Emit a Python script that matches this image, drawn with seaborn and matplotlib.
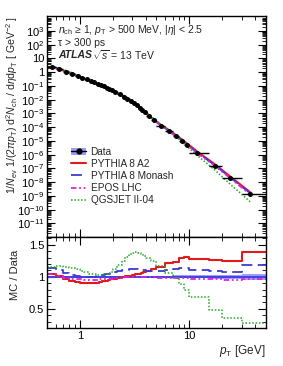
import numpy as np
import pandas as pd
import matplotlib
matplotlib.use("Agg")
import matplotlib.pyplot as plt
import seaborn as sns
from matplotlib.ticker import FixedLocator, FuncFormatter, NullFormatter, MultipleLocator
from matplotlib.lines import Line2D
from matplotlib.patches import Patch

# ---------------- data ----------------
bin_edges = [0.5, 0.6, 0.7, 0.8, 0.9, 1.0, 1.1, 1.2, 1.3, 1.4, 1.5, 1.6, 1.7, 1.8, 1.9, 2.0,
             2.2, 2.4, 2.6, 2.8, 3.0, 3.2, 3.4, 3.6, 3.8, 4.0, 4.5, 5.0, 6.0, 7.0, 8.0, 9.0,
             10.0, 15.0, 20.0, 30.0, 50.0]
pt_mean = [0.55, 0.65, 0.75, 0.85, 0.95, 1.05, 1.15, 1.25, 1.35, 1.45, 1.55, 1.65, 1.75, 1.85, 1.95,
           2.1, 2.3, 2.5, 2.7, 2.9, 3.1, 3.3, 3.5, 3.7, 3.9, 4.25, 4.75, 5.5, 6.5, 7.5, 8.5, 9.5,
           11.7, 17.0, 23.5, 36.0]
data_vals = [2.34, 1.62, 1.12, 0.794, 0.562, 0.407, 0.302, 0.229, 0.178, 0.141, 0.112, 0.0912,
             0.0741, 0.0617, 0.0513, 0.0372, 0.0251, 0.0170, 0.0115, 0.00794, 0.00550, 0.00380,
             0.00240, 0.00166, 0.00117, 6.6e-4, 3.16e-4, 1.26e-4, 5.0e-5, 2.19e-5, 1.0e-5, 5.0e-6,
             1.35e-6, 1.62e-7, 2.09e-8, 1.29e-9]
data_relerr = [0.012, 0.012, 0.012, 0.012, 0.012, 0.012, 0.012, 0.012, 0.012, 0.012, 0.012, 0.012,
               0.013, 0.013, 0.013, 0.013, 0.014, 0.014, 0.014, 0.015, 0.015, 0.015, 0.016, 0.016,
               0.016, 0.017, 0.018, 0.019, 0.020, 0.021, 0.022, 0.023, 0.025, 0.028, 0.032, 0.050]

ratio_pythia_a2 = [1.05, 1.01, 0.97, 0.94, 0.92, 0.91, 0.90, 0.90, 0.91, 0.91, 0.92, 0.93, 0.94,
                   0.95, 0.96, 0.97, 0.98, 1.00, 1.01, 1.02, 1.03, 1.04, 1.05, 1.06, 1.07, 1.09,
                   1.12, 1.16, 1.21, 1.23, 1.30, 1.31, 1.28, 1.26, 1.25, 1.39]
ratio_pythia_monash = [1.13, 1.10, 1.06, 1.03, 1.01, 1.00, 1.00, 1.00, 1.00, 1.01, 1.02, 1.03,
                       1.04, 1.05, 1.06, 1.08, 1.09, 1.10, 1.11, 1.12, 1.12, 1.12, 1.11, 1.11,
                       1.10, 1.09, 1.09, 1.09, 1.10, 1.12, 1.13, 1.14, 1.10, 1.09, 1.08, 1.19]
ratio_epos = [1.04, 1.01, 0.98, 0.97, 0.96, 0.96, 0.95, 0.95, 0.95, 0.95, 0.96, 0.96, 0.97, 0.97,
              0.97, 0.98, 0.98, 0.99, 0.99, 1.00, 1.00, 1.00, 1.00, 1.00, 1.00, 0.99, 0.99, 0.98,
              0.98, 0.98, 0.98, 0.98, 0.97, 0.97, 0.95, 0.96]
ratio_qgsjet = [1.15, 1.17, 1.16, 1.14, 1.12, 1.09, 1.07, 1.05, 1.04, 1.03, 1.03, 1.04, 1.05, 1.06,
                1.08, 1.12, 1.18, 1.25, 1.31, 1.35, 1.38, 1.39, 1.38, 1.36, 1.33, 1.29, 1.24, 1.17,
                1.06, 0.98, 0.88, 0.80, 0.68, 0.48, 0.35, 0.28]

series_labels = ["PYTHIA 8 A2", "PYTHIA 8 Monash", "EPOS LHC", "QGSJET II-04"]
series_ratios = [ratio_pythia_a2, ratio_pythia_monash, ratio_epos, ratio_qgsjet]
series_colors = ["#e31a1c", "#3a3ad8", "#e020e0", "#22aa22"]
series_styles = ["-", (0, (6, 3)), (0, (3, 1.5, 1, 1.5, 1, 1.5)), (0, (1, 1.2))]
series_lw = [1.5, 1.3, 1.3, 1.1]

# ---------------- style ----------------
sns.set_theme(style="ticks")
plt.rcParams["font.family"] = ["Liberation Sans", "DejaVu Sans"]
plt.rcParams["mathtext.fontset"] = "custom"
plt.rcParams["mathtext.rm"] = "Liberation Sans"
plt.rcParams["mathtext.it"] = "Liberation Sans:italic"
plt.rcParams["mathtext.bf"] = "Liberation Sans:bold"

fig = plt.figure(figsize=(2.83, 3.66), dpi=100)
ax = fig.add_axes([0.166, 0.352, 0.774, 0.604])
ax2 = fig.add_axes([0.166, 0.104, 0.774, 0.248], sharex=ax)

edges = np.array(bin_edges)
lo = edges[:-1]
hi = edges[1:]
x = np.array(pt_mean)
dv = np.array(data_vals)
centers = x

# ---------------- top panel ----------------
for lab, r, c, ls, lw in zip(series_labels, series_ratios, series_colors, series_styles, series_lw):
    sns.lineplot(x=centers, y=dv * np.array(r), ax=ax, color=c, linestyle=ls, linewidth=lw,
                 estimator=None, sort=False, legend=False)

ax.errorbar(x, dv, xerr=[x - lo, hi - x], fmt="none", ecolor="black", elinewidth=1.0, capsize=0)
sns.scatterplot(x=x, y=dv, ax=ax, color="black", s=13, edgecolor="black", linewidth=0, zorder=5,
                legend=False)

ax.set_xscale("log")
ax.set_yscale("log")
ax.set_xlim(0.5, 50)
ax.set_ylim(1e-12, 1.2e4)

def ylab_fmt(v, pos):
    e = int(round(np.log10(v)))
    if e == 0:
        return "1"
    if e == 1:
        return "10"
    return r"$10^{%d}$" % e

ax.yaxis.set_major_locator(FixedLocator([10.0 ** e for e in range(-11, 4)]))
ax.yaxis.set_major_formatter(FuncFormatter(ylab_fmt))
ax.yaxis.set_minor_locator(FixedLocator([m * 10.0 ** e for e in range(-12, 4) for m in range(2, 10)]))
ax.yaxis.set_minor_formatter(NullFormatter())
ax.set_ylabel(r"1/$N_{\mathrm{ev}}$ 1/(2$\pi p_{\mathrm{T}}$) d$^2N_{\mathrm{ch}}$ / d$\eta$d$p_{\mathrm{T}}$ [ GeV$^{-2}$ ]",
              fontsize=7.6, loc="top")
ax.yaxis.set_label_coords(-0.125, 1.0)
plt.setp(ax.get_xticklabels(), visible=False)

# annotation texts
ax.text(0.05, 0.935, r"$n_{\mathrm{ch}}$ ≥ 1, $p_{\mathrm{T}}$ > 500 MeV, |$\eta$| < 2.5",
        transform=ax.transAxes, fontsize=7.5, va="center", ha="left")
ax.text(0.05, 0.88, "τ > 300 ps", transform=ax.transAxes, fontsize=7.5, va="center", ha="left")
ax.text(0.05, 0.825, "ATLAS", transform=ax.transAxes, fontsize=7.5, va="center", ha="left",
        fontweight="bold", fontstyle="italic")
ax.text(0.205, 0.825, r"$\sqrt{s}$ = 13 TeV", transform=ax.transAxes, fontsize=7.5,
        va="center", ha="left")

# legend
handles = [(Patch(facecolor="#9c9cff", edgecolor="none"),
            Line2D([], [], color="black", marker="o", ms=3.5, lw=1.0))]
for c, ls, lw in zip(series_colors, series_styles, series_lw):
    handles.append(Line2D([], [], color=c, linestyle=ls, linewidth=lw))
ax.legend(handles, ["Data"] + series_labels, loc="upper left", bbox_to_anchor=(0.11, 0.41),
          frameon=False, fontsize=7.2, handlelength=1.5, handletextpad=0.45, labelspacing=0.22,
          borderpad=0, borderaxespad=0)

# ---------------- ratio panel ----------------
err_ext = np.append(np.array(data_relerr), data_relerr[-1])
ax2.fill_between(edges, 1 - err_ext, 1 + err_ext, step="post", color="#9c9cff", linewidth=0, zorder=1)
ones = np.ones(len(edges))
sns.lineplot(x=edges, y=ones, ax=ax2, color="#3333dd", linewidth=1.2, drawstyle="steps-post",
             estimator=None, sort=False, legend=False)
for lab, r, c, ls, lw in zip(series_labels, series_ratios, series_colors, series_styles, series_lw):
    rr = np.append(np.array(r), r[-1])
    sns.lineplot(x=edges, y=rr, ax=ax2, color=c, linestyle=ls, linewidth=lw, drawstyle="steps-post",
                 estimator=None, sort=False, legend=False)

ax2.set_ylim(0.2, 1.62)
ax2.yaxis.set_major_locator(FixedLocator([0.5, 1.0, 1.5]))
ax2.yaxis.set_major_formatter(FuncFormatter(lambda v, p: "%g" % v))
ax2.yaxis.set_minor_locator(MultipleLocator(0.1))
ax2.set_ylabel("MC / Data", fontsize=8)
ax2.yaxis.set_label_coords(-0.125, 0.58)

ax2.xaxis.set_major_locator(FixedLocator([1, 10]))
ax2.xaxis.set_major_formatter(FuncFormatter(lambda v, p: "%g" % v))
ax2.xaxis.set_minor_locator(FixedLocator([0.5, 0.6, 0.7, 0.8, 0.9, 2, 3, 4, 5, 6, 7, 8, 9, 20, 30, 40, 50]))
ax2.xaxis.set_minor_formatter(NullFormatter())
ax2.set_xlabel(r"$p_{\mathrm{T}}$ [GeV]", fontsize=8.5, loc="right", labelpad=2)

for a in (ax, ax2):
    a.tick_params(which="both", direction="in", top=True, right=True, labelsize=8, pad=2,
                  colors="black")
    a.tick_params(which="major", length=6, width=0.8)
    a.tick_params(which="minor", length=3, width=0.6)
    for s in a.spines.values():
        s.set_linewidth(1.0)
        s.set_color("black")
    a.set_facecolor("white")

fig.savefig("out.png", dpi=100, facecolor="white")
